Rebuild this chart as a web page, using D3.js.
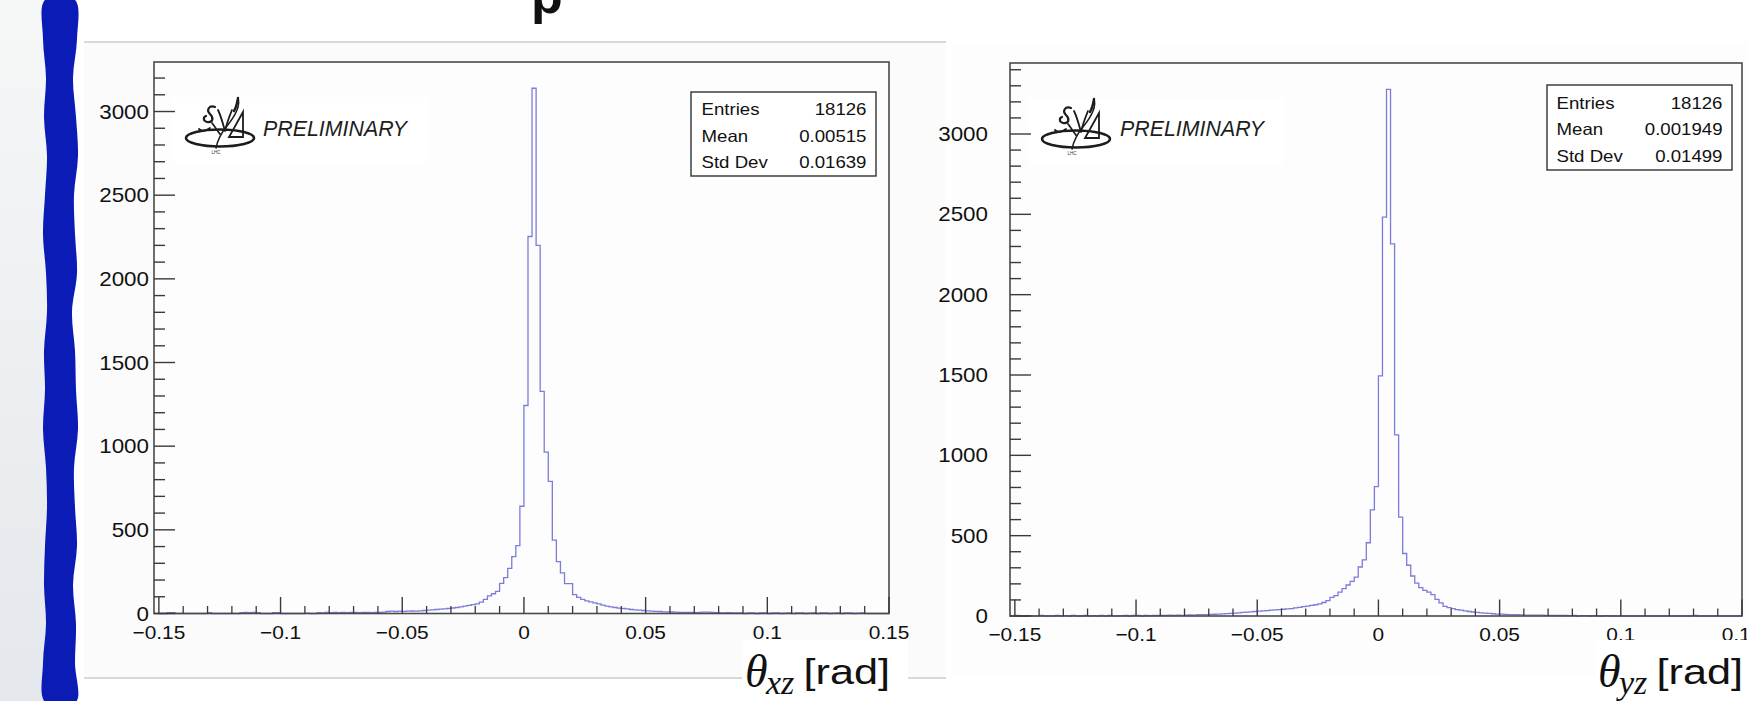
<!DOCTYPE html>
<html><head><meta charset="utf-8">
<script src="https://cdn.jsdelivr.net/npm/d3@7"></script>
<style>html,body{margin:0;padding:0;background:#fff;}svg{display:block}</style>
</head><body>
<svg id="c" width="1747" height="701"></svg>
<script>
// ---- data -----------------------------------------------------------
// 180 equal bins spanning [-0.15, 0.15] rad; each row holds 10 bins
const binLow = -0.15, binHigh = 0.15, nBins = 180;

// theta_xz counts, first bin starts at -0.15
const xzCounts = [
  0,0,5,5,0,0,0,0,0,0,
  0,0,5,0,0,0,0,0,0,0,
  5,6,5,6,5,0,0,0,5,5,
  0,0,0,0,0,0,2,0,0,5,
  4,6,5,6,5,6,5,6,6,5,
  6,6,5,6,6,8,12,14,12,14,
  13,14,15,14,16,18,20,22,24,26,
  28,30,33,36,40,44,48,53,58,68,
  85,105,118,132,180,215,270,340,406,641,
  1243,2253,3139,2200,1328,965,790,438,310,243,
  179,179,113,96,85,76,70,64,58,50,
  44,40,36,32,30,28,24,22,20,18,
  16,14,13,12,10,10,9,8,7,6,
  6,6,5,6,8,8,6,5,4,4,
  5,3,4,3,0,4,3,0,3,4,
  0,3,3,0,2,3,0,3,3,0,
  2,3,0,3,3,0,2,3,0,3,
  3,0,2,3,0,0,0,0,0,0
];

// theta_yz counts, first bin starts at -0.15
const yzCounts = [
  3,0,0,2,0,0,3,0,0,0,
  3,0,2,0,3,0,0,3,0,2,
  0,3,0,3,0,0,2,3,0,3,
  3,0,3,2,3,3,4,3,5,4,
  5,4,6,7,6,8,9,8,10,11,
  12,13,15,16,18,20,22,24,26,28,
  30,32,34,36,38,40,42,44,46,50,
  54,58,62,66,70,76,84,96,116,127,
  149,171,193,216,242,305,349,456,660,805,
  1494,2483,3278,2316,1127,616,389,316,249,204,
  176,160,149,133,104,82,60,52,46,40,
  36,32,28,25,22,20,18,16,14,12,
  12,10,9,8,8,7,6,6,5,5,
  5,4,4,3,4,3,3,2,3,0,
  2,2,0,2,0,0,2,0,0,0,
  0,0,0,0,0,0,0,0,0,0,
  0,0,0,0,0,0,0,0,3,0,
  0,0,0,0,0,0,0,0,0,0
];

const xTickValues = [-0.15, -0.1, -0.05, 0, 0.05, 0.1, 0.15];
const xTickLabels = ["\u22120.15", "\u22120.1", "\u22120.05", "0", "0.05", "0.1", "0.15"];
const yTickValues = [0, 500, 1000, 1500, 2000, 2500, 3000];
const yTickLabels = ["0", "500", "1000", "1500", "2000", "2500", "3000"];

const statNames = ["Entries", "Mean", "Std Dev"];
const xzStats = ["18126", "0.00515", "0.01639"];
const yzStats = ["18126", "0.001949", "0.01499"];

const axisSubscripts = ["xz", "yz"];

// ---- layout ---------------------------------------------------------
const panels = [
  { counts: xzCounts, stats: xzStats, sub: axisSubscripts[0],
    frame: { l: 154, r: 889, t: 62, b: 613.5 }, labelGap: 5,
    stat: { x: 691, y: 92, w: 185, h: 84, tx: 701.5, vx: 866.5, base: 115, step: 26.5 },
    logo: { x: 185, y: 98 }, prelim: { x: 263, y: 136 },
    logoBox: { x: 172, y: 97, w: 256, h: 66 },
    title: { right: 890, base: 684 } },
  { counts: yzCounts, stats: yzStats, sub: axisSubscripts[1],
    frame: { l: 1010, r: 1742, t: 63, b: 616 }, labelGap: 22,
    stat: { x: 1547, y: 85, w: 185, h: 85, tx: 1556.5, vx: 1722.5, base: 109, step: 26.3 },
    logo: { x: 1041, y: 99 }, prelim: { x: 1120, y: 136 },
    logoBox: { x: 1028, y: 98, w: 256, h: 66 },
    title: { right: 1743, base: 684 } }
];
const xDomain = [-0.152, 0.15];

const svg = d3.select("#c");
const FONT = "'Liberation Sans', Arial, Helvetica, sans-serif";
const SERIF = "'Liberation Serif', 'Times New Roman', serif";

// ---- slide background ------------------------------------------------
const defs = svg.append("defs");
const grad = defs.append("linearGradient").attr("id", "side").attr("x1", 0).attr("y1", 0).attr("x2", 0).attr("y2", 1);
grad.append("stop").attr("offset", "0%").attr("stop-color", "#f6f7f7");
grad.append("stop").attr("offset", "100%").attr("stop-color", "#e4e7ec");
svg.append("rect").attr("x", 0).attr("y", 0).attr("width", 1747).attr("height", 701).attr("fill", "#ffffff");
svg.append("rect").attr("x", 0).attr("y", 0).attr("width", 60).attr("height", 701).attr("fill", "url(#side)");

// picture backgrounds of the two canvases
svg.append("rect").attr("x", 84).attr("y", 43).attr("width", 862).attr("height", 634).attr("fill", "#fbfbfb");
svg.append("rect").attr("x", 953).attr("y", 43).attr("width", 794).attr("height", 634).attr("fill", "#fdfdfd");

// wavy blue ribbon on the left edge
const leftEdge = [45,43,46,44,47,45,43,46,47,44,45,43,46,47,45,44,46,43,45];
const rightEdge = [75,77,73,76,78,74,75,77,72,75,76,78,74,75,77,73,76,75,76];
const ribbon = leftEdge.map((x, i) => [x, i * 39]).concat(rightEdge.map((x, i) => [x, i * 39]).reverse());
svg.append("path")
  .attr("d", d3.line().curve(d3.curveCatmullRomClosed)(ribbon))
  .attr("fill", "#0b1bb5");

// descender of the slide heading, cut by the top edge
svg.append("text").attr("x", 531).attr("y", 13).attr("font-family", FONT).attr("font-weight", "bold")
  .attr("font-size", 52).attr("fill", "#111").text("p");

// thin separator lines of the left picture
svg.append("line").attr("x1", 84).attr("x2", 946).attr("y1", 42).attr("y2", 42).attr("stroke", "#d9d9d9").attr("stroke-width", 2);
svg.append("line").attr("x1", 84).attr("x2", 946).attr("y1", 678).attr("y2", 678).attr("stroke", "#d9d9d9").attr("stroke-width", 2);

// ---- helpers ---------------------------------------------------------
function txt(g, x, y, s, o) {
  o = o || {};
  return g.append("text")
    .attr("transform", `translate(${x},${y}) scale(${o.sx || 1},1)`)
    .attr("text-anchor", o.anchor || "start")
    .attr("font-family", o.family || FONT)
    .attr("font-size", o.size || 16)
    .attr("font-style", o.style || "normal")
    .attr("fill", o.fill || "#111")
    .text(s);
}

function drawLogo(g, x0, y0) {
  const lg = g.append("g").attr("transform", `translate(${x0},${y0})`)
    .attr("fill", "none").attr("stroke", "#1c1c1c").attr("stroke-linecap", "round");
  // ring
  lg.append("ellipse").attr("cx", 35).attr("cy", 40).attr("rx", 34).attr("ry", 8.5).attr("stroke-width", 2.6);
  // sail
  lg.append("path").attr("d", "M58,14 L58,39 L44,39 Z").attr("stroke-width", 1.8);
  // tall stroke
  lg.append("path").attr("d", "M53,0 C56,8 50,18 42,28 C37,34 33,40 31,50").attr("stroke-width", 1.5);
  lg.append("path").attr("d", "M53,0 C52,6 51,10 49,13").attr("stroke-width", 2.4);
  // script letters
  lg.append("path").attr("d", "M30,9 C24,7 21,12 25,16 C29,20 28,25 22,24 C18,23 18,19 21,18").attr("stroke-width", 2.2);
  lg.append("path").attr("d", "M25,30 C21,33 17,34 14,31 M27,25 C31,30 33,34 35,36").attr("stroke-width", 1.8);
  lg.append("path").attr("d", "M33,12 C36,18 38,26 40,33 M40,33 C42,24 45,17 47,12").attr("stroke-width", 1.8);
  lg.append("text").attr("x", 31).attr("y", 56).attr("font-family", FONT).attr("font-size", 4.5)
    .attr("text-anchor", "middle").attr("fill", "#333").attr("stroke", "none").text("LHC");
}

// ---- panels ----------------------------------------------------------
const edges = d3.range(nBins + 1).map(i => binLow + (binHigh - binLow) * i / nBins);
const minorX = d3.range(-15, 16).map(v => v / 100).filter(v => !xTickValues.some(t => Math.abs(t - v) < 1e-9));

panels.forEach(p => {
  const g = svg.append("g");
  const f = p.frame;
  const x = d3.scaleLinear().domain(xDomain).range([f.l, f.r]);
  const yMax = d3.max(p.counts) * 1.05;
  const y = d3.scaleLinear().domain([0, yMax]).range([f.b, f.t]);

  // plot area
  g.append("rect").attr("x", f.l).attr("y", f.t).attr("width", f.r - f.l).attr("height", f.b - f.t).attr("fill", "#fdfdfd");
  g.append("rect").attr("x", p.logoBox.x).attr("y", p.logoBox.y).attr("width", p.logoBox.w).attr("height", p.logoBox.h).attr("fill", "#ffffff");

  // histogram outline
  const pts = p.counts.map((c, i) => [edges[i], c]).concat([[edges[nBins], p.counts[nBins - 1]]]);
  g.append("path")
    .attr("d", d3.line().x(d => x(d[0])).y(d => y(d[1])).curve(d3.curveStepAfter)(pts))
    .attr("fill", "none").attr("stroke", "#7b7bdc").attr("stroke-width", 1.3);

  // frame
  g.append("rect").attr("x", f.l).attr("y", f.t).attr("width", f.r - f.l).attr("height", f.b - f.t)
    .attr("fill", "none").attr("stroke", "#4a4a4a").attr("stroke-width", 1.6);

  const tickColor = "#3a3a3a";
  // x ticks
  xTickValues.forEach((v, i) => {
    g.append("line").attr("x1", x(v)).attr("x2", x(v)).attr("y1", f.b).attr("y2", f.b - 16.5)
      .attr("stroke", tickColor).attr("stroke-width", 1.4);
    txt(g, x(v), f.b + 25, xTickLabels[i], { anchor: "middle", size: 18.5, sx: 1.13 });
  });
  minorX.forEach(v => {
    g.append("line").attr("x1", x(v)).attr("x2", x(v)).attr("y1", f.b).attr("y2", f.b - 7.5)
      .attr("stroke", tickColor).attr("stroke-width", 1.3);
  });
  // y ticks
  d3.range(0, yMax, 100).forEach(v => {
    const major = v % 500 === 0;
    g.append("line").attr("x1", f.l).attr("x2", f.l + (major ? 21 : 11)).attr("y1", y(v)).attr("y2", y(v))
      .attr("stroke", tickColor).attr("stroke-width", 1.4);
  });
  yTickValues.forEach((v, i) => {
    txt(g, f.l - p.labelGap, y(v) + 7, yTickLabels[i], { anchor: "end", size: 20, sx: 1.12 });
  });

  // statistics box
  const s = p.stat;
  g.append("rect").attr("x", s.x).attr("y", s.y).attr("width", s.w).attr("height", s.h)
    .attr("fill", "#ffffff").attr("stroke", "#333").attr("stroke-width", 1.4);
  statNames.forEach((n, i) => {
    txt(g, s.tx, s.base + i * s.step, n, { size: 16.5, sx: 1.13 });
    txt(g, s.vx, s.base + i * s.step, p.stats[i], { anchor: "end", size: 16.5, sx: 1.13 });
  });

  // logo + label
  drawLogo(g, p.logo.x, p.logo.y);
  txt(g, p.prelim.x, p.prelim.y, "PRELIMINARY", { size: 23, sx: 0.93, style: "italic", fill: "#1e1e1e" });

  // axis title: theta_sub [rad]
  const t = p.title;
  g.append("rect").attr("x", t.right - 148).attr("y", 640).attr("width", 166).attr("height", 61).attr("fill", "#ffffff");
  txt(g, t.right, t.base, "[rad]", { anchor: "end", size: 36, sx: 1.2, fill: "#111" });
  txt(g, t.right - 145, t.base + 3, "\u03b8", { size: 46, style: "italic", family: SERIF, fill: "#111" });
  txt(g, t.right - 124, t.base + 10, p.sub, { size: 34, style: "italic", family: SERIF, fill: "#111" });
});
</script>
</body></html>
